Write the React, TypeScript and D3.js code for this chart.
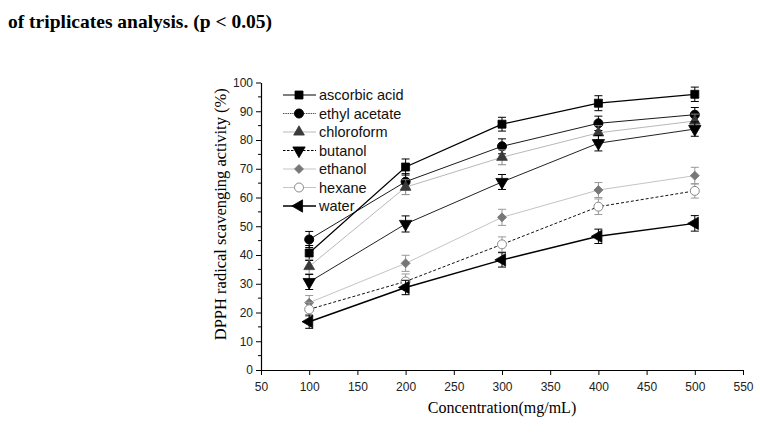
import React, { useEffect, useRef } from 'react';
import * as d3 from 'd3';

// concentrations (mg/mL)
const concentrations = [100, 200, 300, 400, 500];

// scavenging activity (%) per extract, with SD of triplicates
const ascorbicAcid = [40.7, 70.6, 85.5, 92.8, 95.9];
const ascorbicAcidErr = [2.6, 2.8, 2.4, 2.6, 2.5];
const ethylAcetate = [45.4, 65.5, 77.8, 85.8, 88.8];
const ethylAcetateErr = [2.8, 2.8, 2.6, 2.5, 2.5];
const chloroform = [36.0, 63.6, 74.0, 82.5, 86.6];
const chloroformErr = [2.5, 2.6, 2.6, 2.5, 2.4];
const butanol = [30.6, 50.8, 65.4, 78.9, 83.8];
const butanolErr = [2.6, 2.8, 2.6, 2.7, 2.5];
const ethanol = [23.4, 37.1, 53.1, 62.6, 67.6];
const ethanolErr = [2.5, 2.8, 2.8, 2.6, 2.9];
const hexane = [21.1, 30.8, 43.7, 56.8, 62.3];
const hexaneErr = [2.4, 2.6, 2.6, 2.7, 2.5];
const water = [16.8, 28.7, 38.3, 46.5, 51.0];
const waterErr = [2.3, 2.5, 2.5, 2.5, 2.7];

const xTicks = [50, 100, 150, 200, 250, 300, 350, 400, 450, 500, 550];
const yTicks = [0, 10, 20, 30, 40, 50, 60, 70, 80, 90, 100];

type Series = {
  name: string;
  values: number[];
  errors: number[];
  symbol: 'square' | 'circle' | 'up' | 'down' | 'left' | 'diamond';
  fill: string;
  stroke: string;
  line: string;
  lineWidth: number;
  dash?: string;
  legendLine: string;
  legendDash?: string;
  errColor: string;
  size: number;
};

const series: Series[] = [
  { name: 'ascorbic acid', values: ascorbicAcid, errors: ascorbicAcidErr, symbol: 'square', fill: '#000', stroke: '#000', line: '#000', lineWidth: 1.2, legendLine: '#000', errColor: '#000', size: 64 },
  { name: 'ethyl acetate', values: ethylAcetate, errors: ethylAcetateErr, symbol: 'circle', fill: '#000', stroke: '#000', line: '#1a1a1a', lineWidth: 1, legendLine: '#555', legendDash: '1.5,0.8', errColor: '#000', size: 4.5 },
  { name: 'chloroform', values: chloroform, errors: chloroformErr, symbol: 'up', fill: '#3a3a3a', stroke: '#3a3a3a', line: '#b8b8b8', lineWidth: 1, legendLine: '#b8b8b8', errColor: '#888', size: 50 },
  { name: 'butanol', values: butanol, errors: butanolErr, symbol: 'down', fill: '#000', stroke: '#000', line: '#222', lineWidth: 1, legendLine: '#000', legendDash: '2.5,1.5', errColor: '#000', size: 66 },
  { name: 'ethanol', values: ethanol, errors: ethanolErr, symbol: 'diamond', fill: '#777', stroke: '#777', line: '#c4c4c4', lineWidth: 1, legendLine: '#c4c4c4', errColor: '#999', size: 40 },
  { name: 'hexane', values: hexane, errors: hexaneErr, symbol: 'circle', fill: '#fff', stroke: '#888', line: '#111', lineWidth: 1, dash: '3,2', legendLine: '#c4c4c4', errColor: '#999', size: 4.5 },
  { name: 'water', values: water, errors: waterErr, symbol: 'left', fill: '#000', stroke: '#000', line: '#000', lineWidth: 1.5, legendLine: '#000', errColor: '#000', size: 66 },
];

const serif = '"Liberation Serif", "Times New Roman", serif';
const sans = '"Liberation Sans", Arial, sans-serif';

export default function App() {
  const svgRef = useRef<SVGSVGElement>(null);

  useEffect(() => {
    const svg = d3.select(svgRef.current);
    svg.selectAll('*').remove();

    const x = d3.scaleLinear().domain([50, 550]).range([261, 743]);
    const y = d3.scaleLinear().domain([0, 100]).range([370, 82.5]);

    // caption fragment above the figure
    svg.append('text')
      .attr('x', 8).attr('y', 28)
      .attr('font-family', serif).attr('font-weight', 'bold').attr('font-size', 19)
      .attr('textLength', 264).attr('lengthAdjust', 'spacingAndGlyphs')
      .text('of triplicates analysis. (p < 0.05)');

    // axes
    const xAxis = svg.append('g')
      .attr('transform', `translate(0,${y(0)})`)
      .call(d3.axisBottom(x).tickValues(xTicks).tickSize(5).tickSizeOuter(0));
    const yAxis = svg.append('g')
      .attr('transform', `translate(${x(50)},0)`)
      .call(d3.axisLeft(y).tickValues(yTicks).tickSize(5).tickSizeOuter(0));
    // minor y ticks
    svg.append('g')
      .selectAll('line')
      .data(d3.range(5, 100, 10))
      .enter().append('line')
      .attr('x1', x(50) - 3).attr('x2', x(50))
      .attr('y1', d => y(d)).attr('y2', d => y(d))
      .attr('stroke', '#000').attr('stroke-width', 1);

    [xAxis, yAxis].forEach(g => {
      g.select('.domain').attr('stroke', '#000').attr('stroke-width', 1.2);
      g.selectAll('.tick line').attr('stroke', '#000');
      g.selectAll('.tick text')
        .attr('font-family', sans).attr('font-size', 12).attr('fill', '#222');
    });
    xAxis.selectAll('.tick text').attr('dy', '1.05em');

    // axis titles
    svg.append('text')
      .attr('x', (x(50) + x(550)) / 2).attr('y', 413)
      .attr('text-anchor', 'middle')
      .attr('font-family', serif).attr('font-size', 16)
      .text('Concentration(mg/mL)');
    svg.append('text')
      .attr('transform', `translate(226,${(y(0) + y(100)) / 2 - 12}) rotate(-90)`)
      .attr('text-anchor', 'middle')
      .attr('font-family', serif).attr('font-size', 16.5)
      .text('DPPH radical scavenging activity (%)');

    const drawMarker = (g: d3.Selection<SVGGElement, unknown, null, undefined>, s: Series, cx: number, cy: number) => {
      if (s.symbol === 'circle') {
        g.append('circle').attr('cx', cx).attr('cy', cy).attr('r', s.size)
          .attr('fill', s.fill).attr('stroke', s.stroke).attr('stroke-width', 1);
        return;
      }
      const type = s.symbol === 'square' || s.symbol === 'diamond' ? d3.symbolSquare : d3.symbolTriangle;
      const rot = { square: 0, diamond: 45, up: 0, down: 180, left: -90 }[s.symbol];
      g.append('path')
        .attr('d', d3.symbol(type, s.size)())
        .attr('transform', `translate(${cx},${cy}) rotate(${rot})`)
        .attr('fill', s.fill).attr('stroke', s.stroke).attr('stroke-width', 0.8);
    };

    const line = d3.line<number>()
      .x((_, i) => x(concentrations[i]))
      .y(d => y(d));

    const plot = svg.append('g');
    // connecting lines first, lower series underneath
    [...series].reverse().forEach(s => {
      plot.append('path')
        .datum(s.values)
        .attr('d', line)
        .attr('fill', 'none')
        .attr('stroke', s.line)
        .attr('stroke-width', s.lineWidth)
        .attr('stroke-dasharray', s.dash ?? null);
    });

    // error bars and markers
    series.forEach(s => {
      const g = plot.append('g');
      s.values.forEach((v, i) => {
        const cx = x(concentrations[i]);
        const lo = y(v - s.errors[i]);
        const hi = y(v + s.errors[i]);
        g.append('line').attr('x1', cx).attr('x2', cx).attr('y1', lo).attr('y2', hi)
          .attr('stroke', s.errColor).attr('stroke-width', 1);
        [lo, hi].forEach(yy => {
          g.append('line').attr('x1', cx - 4).attr('x2', cx + 4).attr('y1', yy).attr('y2', yy)
            .attr('stroke', s.errColor).attr('stroke-width', 1);
        });
        drawMarker(g, s, cx, y(v));
      });
    });

    // legend
    const legend = svg.append('g');
    series.forEach((s, i) => {
      const ly = 95 + i * 18.5;
      const g = legend.append('g');
      g.append('line')
        .attr('x1', 283).attr('x2', 316).attr('y1', ly).attr('y2', ly)
        .attr('stroke', s.legendLine).attr('stroke-width', s.lineWidth)
        .attr('stroke-dasharray', s.legendDash ?? null);
      drawMarker(g, s, 299, ly);
      g.append('text')
        .attr('x', 319).attr('y', ly + 5)
        .attr('font-family', sans).attr('font-size', 14.5).attr('fill', '#111')
        .text(s.name);
    });
  }, []);

  return (
    <svg
      ref={svgRef}
      width={760}
      height={444}
      style={{ position: 'absolute', left: 0, top: 0, background: '#fff' }}
    />
  );
}
